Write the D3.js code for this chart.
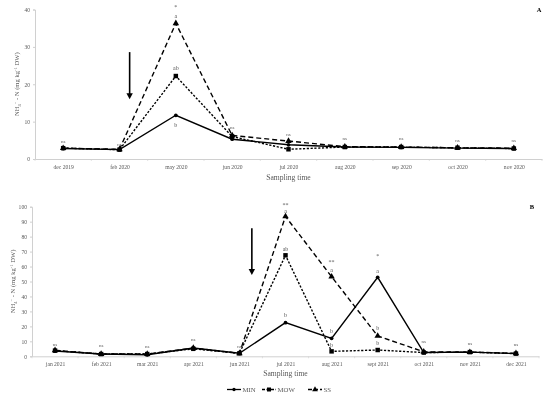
<!DOCTYPE html>
<html><head><meta charset="utf-8">
<script src="https://cdn.jsdelivr.net/npm/d3@7"></script>
<style>body{margin:0;background:#fff}svg{display:block;will-change:transform}text{font-family:"Liberation Serif","DejaVu Serif",serif;-webkit-font-smoothing:antialiased}</style>
</head><body><svg id="c" width="550" height="400"></svg>
<script>
// ---------- DATA ----------
const catsA = ["dec 2019","feb 2020","may 2020","jun 2020","jul 2020","aug 2020","sep 2020","oct 2020","nov 2020"];
const minA = [2.8, 2.5, 11.7, 5.3, 3.8, 3.2, 3.1, 2.9, 2.8];
const mowA = [2.9, 2.5, 22.2, 6.0, 2.6, 3.2, 3.2, 3.0, 2.8];
const ssA  = [2.9, 2.6, 36.3, 6.3, 4.8, 3.3, 3.2, 3.0, 2.9];
const ticksA = [0, 10, 20, 30, 40];
const notesA = [["dec 2019","ns",4.8],["feb 2020","ns",4.0],["may 2020","*",40.6],["may 2020","a",38.2],["may 2020","ab",24.3],["may 2020","b",9.1],["jun 2020","ns",8.6],["jul 2020","ns",6.7],["aug 2020","ns",5.6],["sep 2020","ns",5.6],["oct 2020","ns",5.1],["nov 2020","ns",5.1]];

const catsB = ["jan 2021","feb 2021","mar 2021","apr 2021","jun 2021","jul 2021","aug 2021","sept 2021","oct 2021","nov 2021","dec 2021"];
const minB = [3.5, 1.5, 1.0, 5.5, 2.0, 22.5, 12.0, 52.8, 2.5, 2.8, 1.8];
const mowB = [3.8, 1.5, 1.5, 5.0, 2.0, 67.5, 3.3, 4.2, 2.5, 2.8, 1.8];
const ssB  = [4.0, 1.5, 1.5, 5.5, 2.0, 93.5, 53.2, 13.6, 3.0, 2.8, 2.0];
const ticksB = [0,10,20,30,40,50,60,70,80,90,100];
const notesB = [["jan 2021","ns",8.2],["feb 2021","ns",7.1],["mar 2021","ns",6.9],["apr 2021","ns",11.4],["jun 2021","ns",6.4],["jul 2021","**",101.3],["jul 2021","a",97.1],["jul 2021","ab",71.5],["jul 2021","b",27.6],["aug 2021","**",63.2],["aug 2021","a",57.7],["aug 2021","b",16.7],["aug 2021","b",7.4],["sept 2021","*",67.2],["sept 2021","a",57.2],["sept 2021","b",19.1],["sept 2021","b",9.1],["oct 2021","ns",9.8],["nov 2021","ns",8.7],["dec 2021","ns",8.0]];

const seriesNames = ["MIN","MOW","SS"];

// ---------- DRAW ----------
const svg = d3.select("#c");
const gray = "#595959", axisGray = "#d0d0d0";
const styles = {
  MIN:{dash:null, sym:d3.symbolCircle, size:11},
  MOW:{dash:"2.2,1.6", sym:d3.symbolSquare, size:20},
  SS:{dash:"5,3", sym:d3.symbolTriangle, size:18}
};

function panel(cfg){
  const x = d3.scalePoint().domain(cfg.cats).range([cfg.x0, cfg.x1]).padding(0.5);
  const y = d3.scaleLinear().domain([0, cfg.ymax]).range([cfg.yb, cfg.yt]);
  const g = svg.append("g");
  const step = x.step();
  const xa = g.append("g").attr("transform",`translate(0,${cfg.yb})`)
    .call(d3.axisBottom(x).tickSize(0).tickPadding(6));
  xa.select(".domain").attr("stroke", axisGray);
  xa.selectAll("text").attr("fill", gray).style("font-size","5.6px").style("font-family","Liberation Serif, serif");
  g.selectAll(".bt").data(d3.range(cfg.cats.length+1)).join("line")
    .attr("x1", i=>cfg.x0+i*step).attr("x2", i=>cfg.x0+i*step)
    .attr("y1", cfg.yb).attr("y2", cfg.yb+2).attr("stroke", axisGray).attr("stroke-width",0.6);
  const ya = g.append("g").attr("transform",`translate(${cfg.x0},0)`)
    .call(d3.axisLeft(y).tickValues(cfg.ticks).tickSize(2).tickPadding(3));
  ya.select(".domain").attr("stroke", axisGray);
  ya.selectAll(".tick line").attr("stroke", axisGray);
  ya.selectAll("text").attr("fill", gray).style("font-size","5.6px").style("font-family","Liberation Serif, serif");
  const yl = g.append("text").attr("transform",`translate(${cfg.ylx},${(cfg.yb+cfg.yt)/2})`+" rotate(-90)")
    .attr("text-anchor","middle").attr("fill",gray).style("font-size","6.6px");
  yl.append("tspan").text("NH");
  yl.append("tspan").attr("dy","1.5").style("font-size","4.5px").text("4");
  yl.append("tspan").attr("dy","-4").style("font-size","4.5px").text("+");
  yl.append("tspan").attr("dy","2.5").text(" - N (mg kg");
  yl.append("tspan").attr("dy","-2.5").style("font-size","4.5px").text("-1");
  yl.append("tspan").attr("dy","2.5").text(" DW)");
  g.append("text").attr("x", (cfg.x0+cfg.x1)/2).attr("y", cfg.xly).attr("text-anchor","middle")
    .attr("fill",gray).style("font-size","7.6px").text("Sampling time");
  const data = {MIN:cfg.min, MOW:cfg.mow, SS:cfg.ss};
  ["SS","MOW","MIN"].forEach(n=>{
    const vals = data[n];
    const line = d3.line().x((d,i)=>x(cfg.cats[i])).y(d=>y(d));
    g.append("path").attr("d", line(vals)).attr("fill","none").attr("stroke","#000")
      .attr("stroke-width",1.4).attr("stroke-dasharray", styles[n].dash);
    g.selectAll(null).data(vals).join("path")
      .attr("d", d3.symbol().type(styles[n].sym).size(styles[n].size))
      .attr("transform",(d,i)=>`translate(${x(cfg.cats[i])},${y(d)})`).attr("fill","#000");
  });
  g.selectAll(".note").data(cfg.notes).join("text")
    .attr("x", d=>x(d[0])).attr("y", d=>y(d[2])).attr("dy","0.35em")
    .attr("text-anchor","middle").attr("fill",gray)
    .style("font-size", d=>d[1]==="ns"?"5px":"6px").text(d=>d[1]);
  const ax = x(cfg.arrow[0]) + cfg.arrow[1]*step;
  g.append("line").attr("x1",ax).attr("x2",ax).attr("y1",y(cfg.arrow[2])).attr("y2",y(cfg.arrow[3])-5)
    .attr("stroke","#000").attr("stroke-width",1.6);
  const ay = y(cfg.arrow[3]);
  g.append("path").attr("d",`M${ax-3.2},${ay-6}L${ax+3.2},${ay-6}L${ax},${ay}Z`).attr("fill","#000");
  g.append("text").attr("x",cfg.letter[0]).attr("y",cfg.letter[1]).attr("dy","0.35em").attr("text-anchor","middle")
    .attr("fill","#000").style("font-size","6.5px").style("font-weight","bold").text(cfg.letterText);
}

panel({cats:catsA, min:minA, mow:mowA, ss:ssA, ticks:ticksA, notes:notesA, ymax:40,
  x0:35, x1:542, yb:159, yt:9.5, ylx:19, xly:180,
  arrow:["feb 2020",0.18,28.6,16.0], letter:[539,10], letterText:"A"});
panel({cats:catsB, min:minB, mow:mowB, ss:ssB, ticks:ticksB, notes:notesB, ymax:100,
  x0:32, x1:539, yb:356.3, yt:206.7, ylx:15, xly:376,
  arrow:["jun 2021",0.27,85.6,54.3], letter:[532,207], letterText:"B"});

const leg = svg.append("g");
const legX = [227, 262, 308];
seriesNames.forEach((n,i)=>{
  const lx = legX[i], ly = 389.5;
  leg.append("line").attr("x1",lx).attr("x2",lx+14).attr("y1",ly).attr("y2",ly)
    .attr("stroke","#000").attr("stroke-width",1.3).attr("stroke-dasharray", n==="MIN"?null:(n==="MOW"?"3,1.5":"4,2"));
  leg.append("path").attr("d", d3.symbol().type(styles[n].sym).size(styles[n].size*0.8)())
    .attr("transform",`translate(${lx+7},${ly})`).attr("fill","#000");
  leg.append("text").attr("x",lx+15.5).attr("y",ly).attr("dy","0.35em").attr("fill",gray)
    .style("font-size","6.8px").text(n);
});
</script></body></html>
